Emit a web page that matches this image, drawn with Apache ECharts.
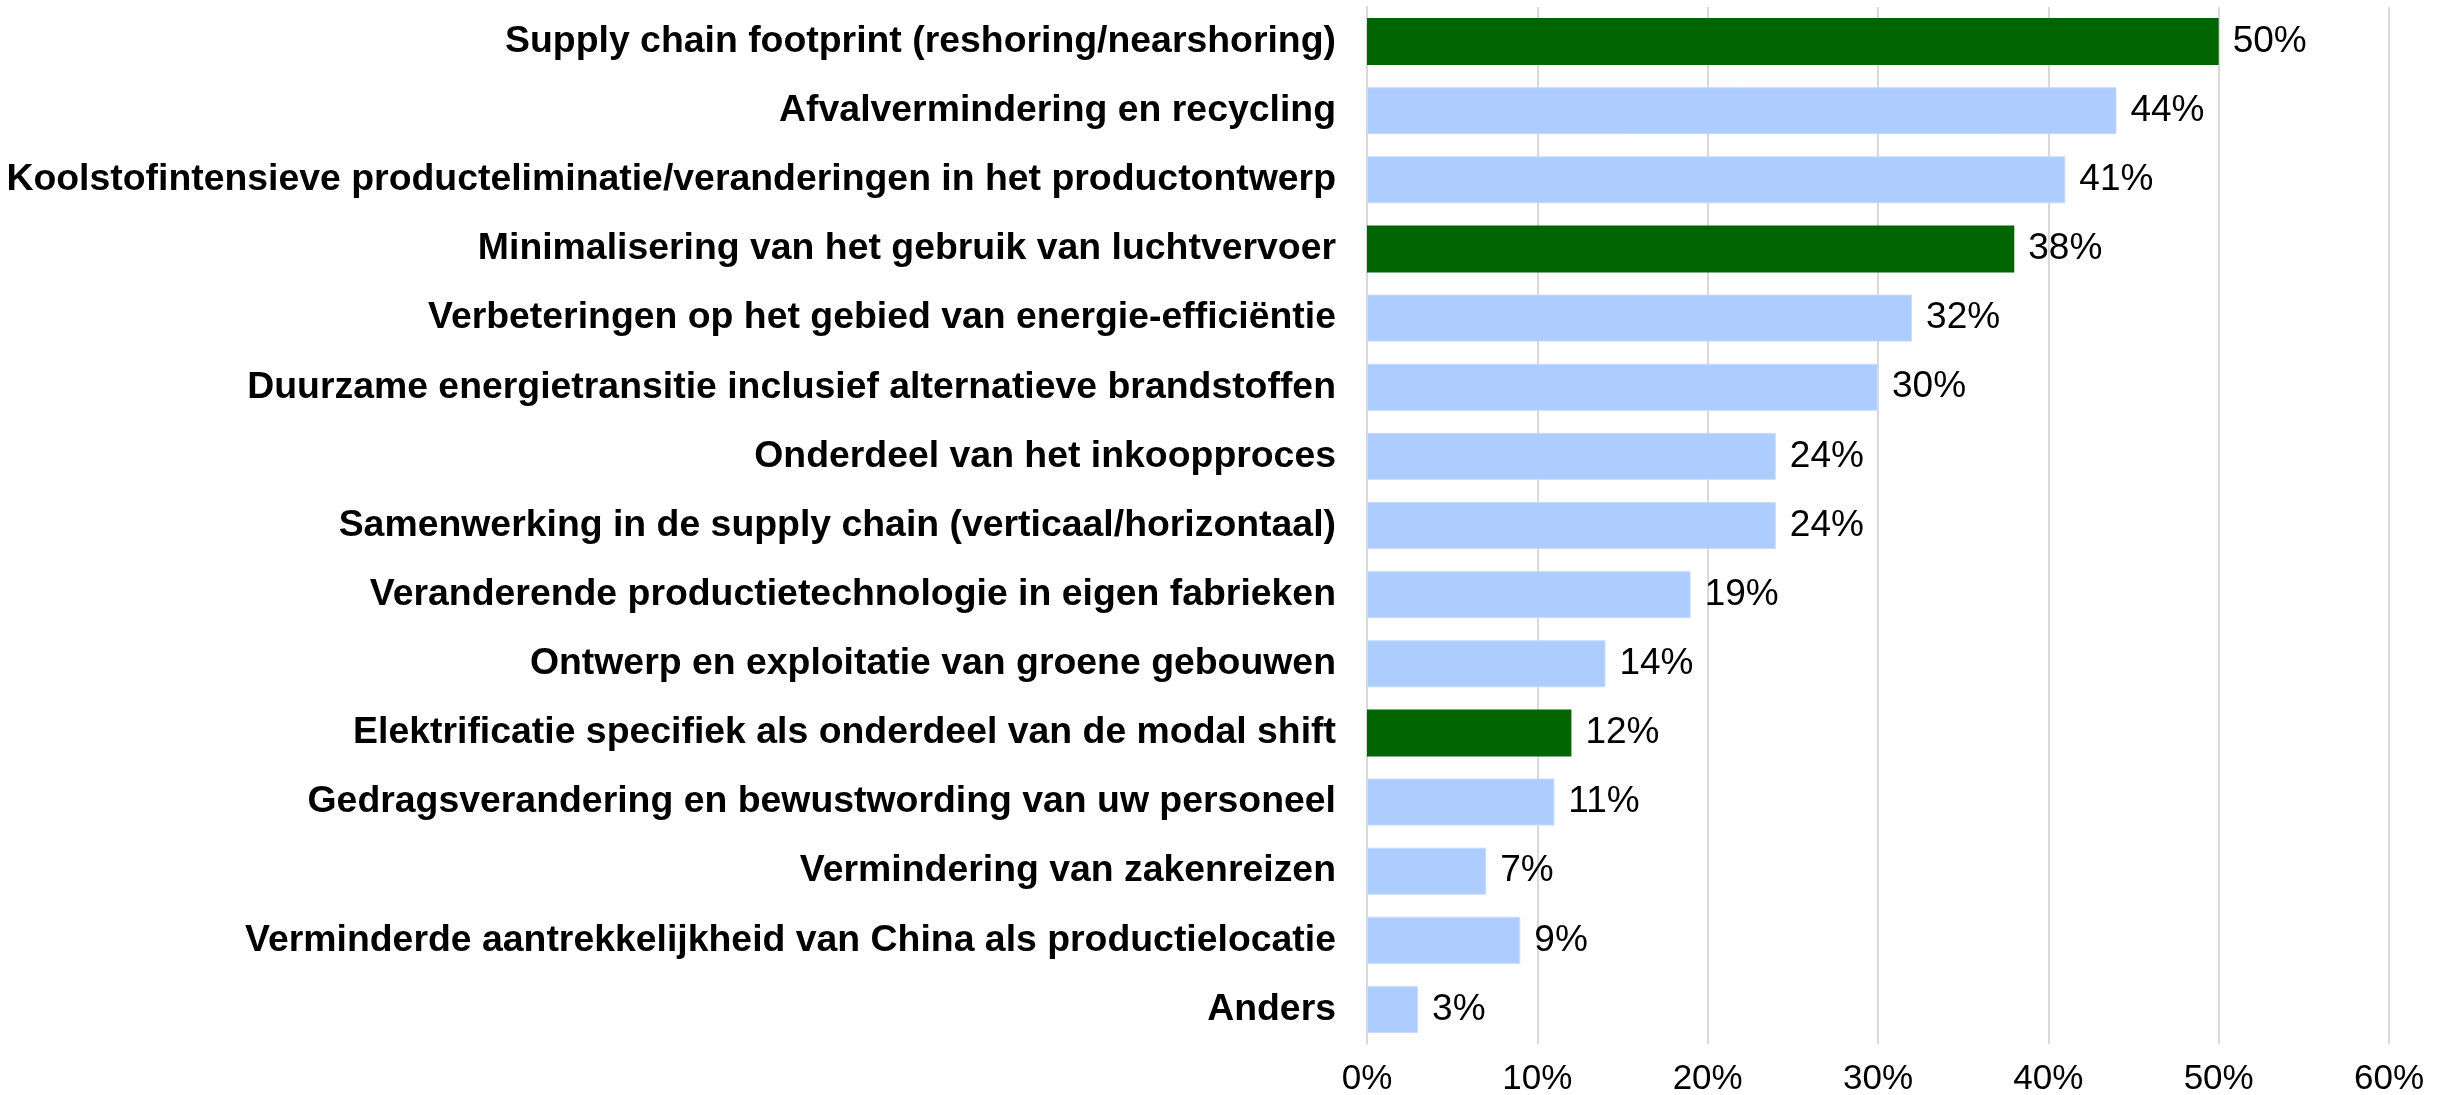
<!DOCTYPE html>
<html>
<head>
<meta charset="utf-8">
<script src="https://cdn.jsdelivr.net/npm/echarts@6/dist/echarts.min.js"></script>
<style>
  html, body { margin: 0; padding: 0; background: #ffffff; }
  #chart { width: 2446px; height: 1095px; }
</style>
</head>
<body>
<div id="chart"></div>
<script>
// Maatregelen, van boven naar beneden
const categories = [
  'Supply chain footprint (reshoring/nearshoring)',
  'Afvalvermindering en recycling',
  'Koolstofintensieve producteliminatie/veranderingen in het productontwerp',
  'Minimalisering van het gebruik van luchtvervoer',
  'Verbeteringen op het gebied van energie-efficiëntie',
  'Duurzame energietransitie inclusief alternatieve brandstoffen',
  'Onderdeel van het inkoopproces',
  'Samenwerking in de supply chain (verticaal/horizontaal)',
  'Veranderende productietechnologie in eigen fabrieken',
  'Ontwerp en exploitatie van groene gebouwen',
  'Elektrificatie specifiek als onderdeel van de modal shift',
  'Gedragsverandering en bewustwording van uw personeel',
  'Vermindering van zakenreizen',
  'Verminderde aantrekkelijkheid van China als productielocatie',
  'Anders'
];
const values = [50, 44, 41, 38, 32, 30, 24, 24, 19, 14, 12, 11, 7, 9, 3];
// Maatregelen die in groen worden uitgelicht
const highlighted = [
  'Supply chain footprint (reshoring/nearshoring)',
  'Minimalisering van het gebruik van luchtvervoer',
  'Elektrificatie specifiek als onderdeel van de modal shift'
];
const xTicks = [0, 10, 20, 30, 40, 50, 60];

const GREEN = '#006400';
const BLUE = '#ADCCFF';
const FONT = '"Liberation Sans", Arial, sans-serif';

const chart = echarts.init(document.getElementById('chart'), null, { renderer: 'canvas' });

chart.setOption({
  backgroundColor: '#ffffff',
  animation: false,
  grid: {
    left: 1367, right: 57, top: 7, bottom: 51,
    containLabel: false,
    outerBoundsMode: 'none'
  },
  xAxis: {
    type: 'value',
    min: xTicks[0],
    max: xTicks[xTicks.length - 1],
    interval: 10,
    axisLine: { show: false },
    axisTick: { show: false },
    splitLine: { show: true, lineStyle: { color: '#D9D9D9', width: 2 } },
    axisLabel: {
      margin: 18,
      color: '#000000',
      fontFamily: FONT,
      fontSize: 35,
      formatter: v => v + '%'
    }
  },
  yAxis: {
    type: 'category',
    inverse: true,
    data: categories,
    axisLine: { show: true, lineStyle: { color: '#D9D9D9', width: 2 } },
    axisTick: { show: false },
    splitLine: { show: false },
    axisLabel: {
      margin: 31,
      color: '#000000',
      fontFamily: FONT,
      fontWeight: 'bold',
      fontSize: 37.4
    }
  },
  series: [{
    type: 'bar',
    barCategoryGap: '32%',
    data: categories.map((c, i) => ({
      value: values[i],
      itemStyle: highlighted.includes(c)
        ? { color: GREEN }
        : { color: BLUE, borderColor: '#C8DBFF', borderWidth: 1 }
    })),
    label: {
      show: true,
      position: 'right',
      distance: 14,
      color: '#000000',
      fontFamily: FONT,
      fontSize: 37,
      formatter: p => p.value + '%'
    }
  }]
});
</script>
</body>
</html>
